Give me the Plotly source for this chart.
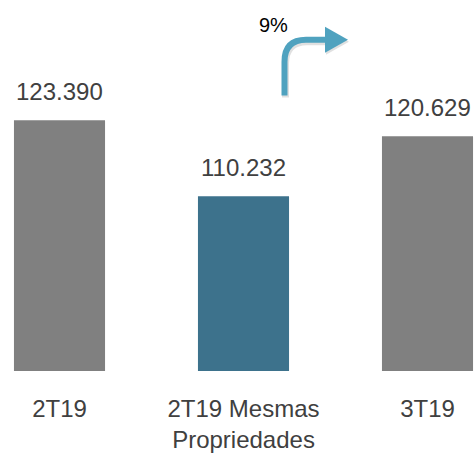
import plotly.graph_objects as go

# Receita por trimestre
categories = ["2T19", "2T19 Mesmas<br>Propriedades", "3T19"]
values = [123390, 110232, 120629]
bar_colors = ["#808080", "#3d728c", "#808080"]
growth_label = "9%"

W, H = 476, 453
M_BOTTOM = 80
PLOT_H = H - M_BOTTOM

TEXT = "#404040"
FONT = "Liberation Sans, Arial, sans-serif"


def fmt(v):
    return f"{v:,.0f}".replace(",", ".")


fig = go.Figure()
fig.add_trace(go.Bar(
    x=list(range(len(categories))),
    y=values,
    width=0.495,
    marker=dict(color=bar_colors, line=dict(width=0)),
    hoverinfo="skip",
))

# value labels above each bar
for i, v in enumerate(values):
    fig.add_annotation(
        x=i, y=v, xref="x", yref="y", text=fmt(v), showarrow=False,
        yanchor="bottom", yshift=13,
        font=dict(family=FONT, size=24, color=TEXT),
    )


# growth arrow (drawn in pixel space converted to paper units)
def px(x):
    return x / W


def py(y):
    return 1 - y / PLOT_H


arrow_color = "#4fa2bf"
shadow = "rgba(0,0,0,0.12)"
stem_pts = [(284.5, 96), (284.5, 62), (284.5, 40), (306, 40), (328, 40)]


def stem_path(dx=0.0, dy=0.0):
    p = [(x + dx, y + dy) for x, y in stem_pts]
    return (f"M {px(p[0][0])},{py(p[0][1])} L {px(p[1][0])},{py(p[1][1])} "
            f"Q {px(p[2][0])},{py(p[2][1])} {px(p[3][0])},{py(p[3][1])} "
            f"L {px(p[4][0])},{py(p[4][1])}")


def head_path(dx=0.0, dy=0.0):
    return (f"M {px(325 + dx)},{py(27 + dy)} L {px(348 + dx)},{py(40 + dy)} "
            f"L {px(325 + dx)},{py(53 + dy)} Z")


# soft drop shadow under the arrow
fig.add_shape(type="path", xref="paper", yref="paper", path=stem_path(1, 2),
              line=dict(color=shadow, width=7))
fig.add_shape(type="path", xref="paper", yref="paper", path=head_path(1, 2),
              fillcolor=shadow, line=dict(width=0))
fig.add_shape(type="path", xref="paper", yref="paper", path=stem_path(),
              line=dict(color=arrow_color, width=6))
fig.add_shape(type="path", xref="paper", yref="paper", path=head_path(),
              fillcolor=arrow_color, line=dict(color=arrow_color, width=0))
fig.add_annotation(x=px(273), y=py(25), xref="paper", yref="paper",
                   xanchor="center", yanchor="middle",
                   text=growth_label, showarrow=False,
                   font=dict(family=FONT, size=20, color="#000000"))

fig.update_layout(
    width=W, height=H,
    margin=dict(l=0, r=0, t=0, b=M_BOTTOM),
    plot_bgcolor="white", paper_bgcolor="white",
    showlegend=False,
    xaxis=dict(
        range=[-59.5 / 184, (W - 59.5) / 184],
        tickmode="array",
        tickvals=list(range(len(categories))),
        ticktext=categories,
        ticks="", showline=False, showgrid=False, zeroline=False,
        tickfont=dict(family=FONT, size=24, color=TEXT),
        ticklabelstandoff=21,
    ),
    yaxis=dict(
        range=[80000, 80000 + PLOT_H / 0.005808],
        visible=False, showgrid=False, zeroline=False,
    ),
)

fig.write_html("out.html")
